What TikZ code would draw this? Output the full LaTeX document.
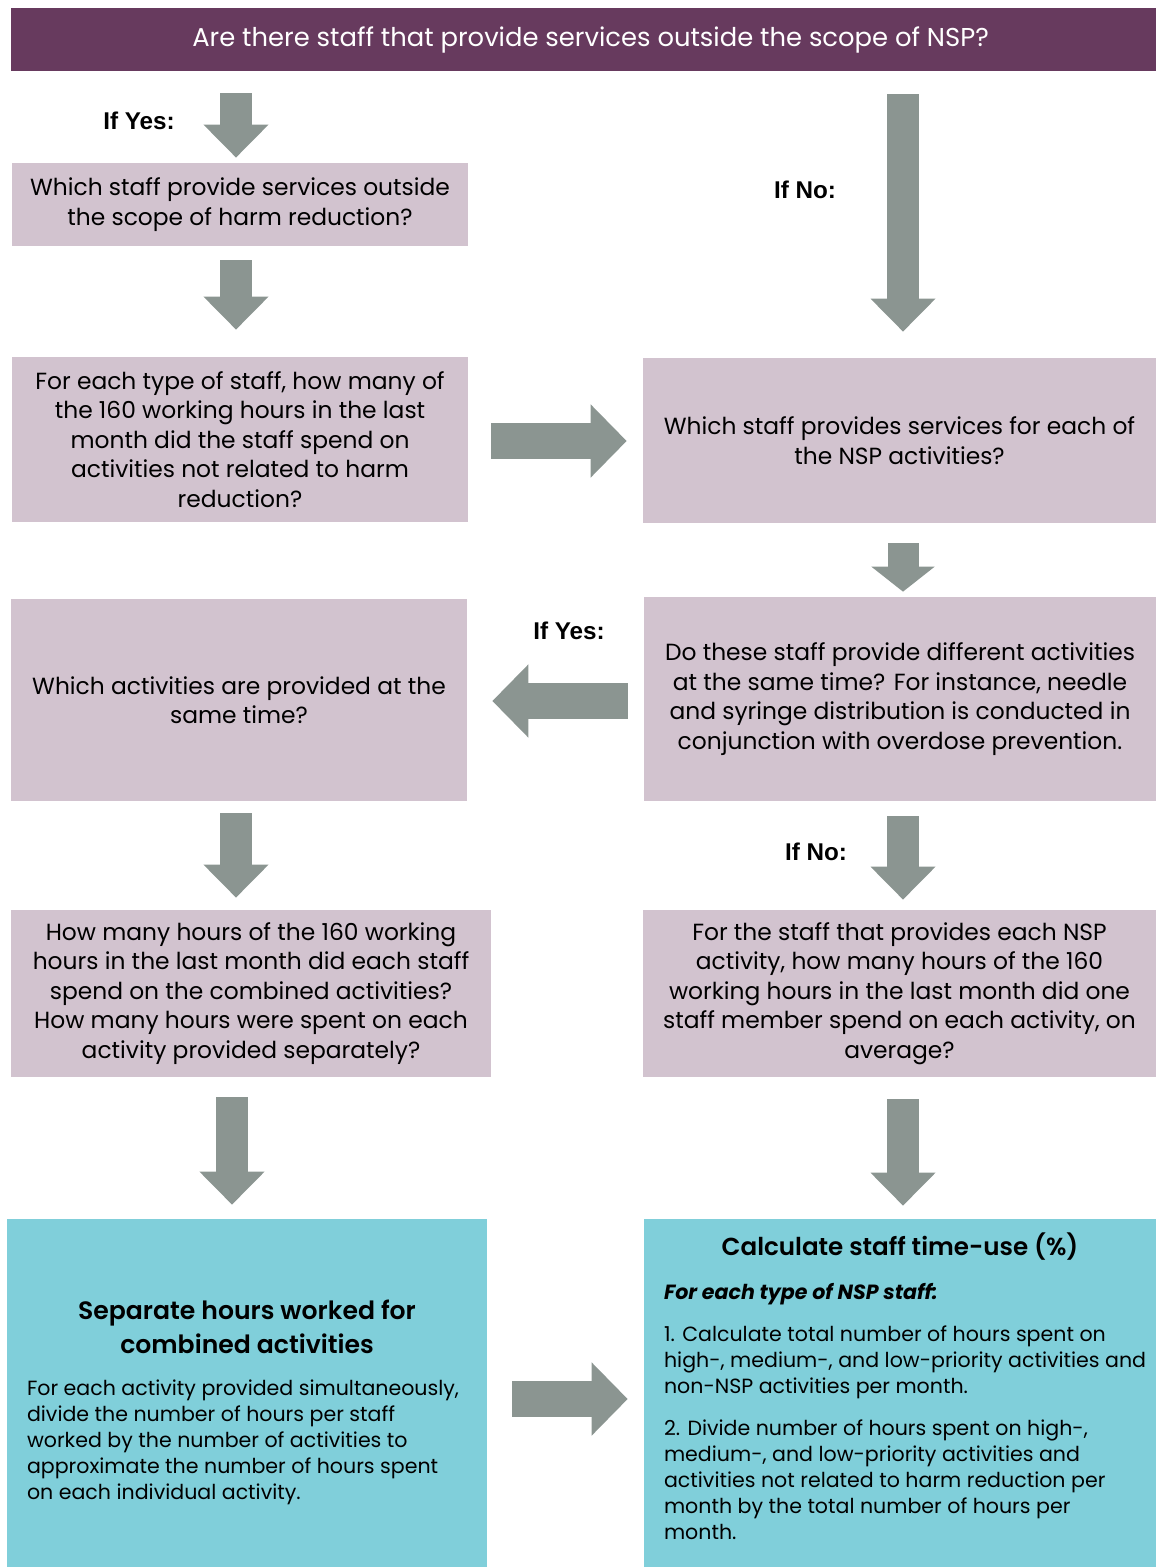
\documentclass[tikz,border=0pt]{standalone}
\usepackage{fontspec}
\setmainfont{Poppins}
\newfontfamily\headfont{Poppins SemiBold}
\newfontfamily\ifnofont{Liberation Sans}
\usetikzlibrary{arrows.meta}
\definecolor{nspPurple}{HTML}{673A5E}
\definecolor{nspPink}{HTML}{D2C3CF}
\definecolor{nspGray}{HTML}{8B9591}
\definecolor{nspTeal}{HTML}{80CFDA}
\begin{document}
\begin{tikzpicture}[x=0.02cm,y=-0.02cm,line join=miter,
  qbox/.style={fill=nspPink,inner sep=0pt,align=center,font=\fontsize{13.3}{16.8}\selectfont},
  resultbox/.style={fill=nspTeal,inner sep=0pt},
  ifnote/.style={font=\ifnofont\fontsize{13.8}{16}\selectfont\bfseries},
  vflow/.style={nspGray,line width=0.64cm,-{Triangle[width=1.26cm,length=0.66cm]}},
  hflow/.style={nspGray,line width=0.72cm,-{Triangle[width=1.42cm,length=0.72cm]}}]
\useasboundingbox (0,0) rectangle (1156,1567);
% question bar
\node[fill=nspPurple,text=white,minimum width=22.9cm,minimum height=1.26cm,inner sep=0pt,
  font=\fontsize{14.7}{16}\selectfont] (question) at (583.5,39.5)
  {\hspace{8pt}Are there staff that provide services outside the scope of NSP?};
% left column
\node[qbox,minimum width=9.12cm,minimum height=1.66cm] (whichStaff) at (240,204.5)
  {Which staff provide services outside\\the scope of harm reduction?};
\node[qbox,minimum width=9.12cm,minimum height=3.3cm] (hoursNonHR) at (240,439.5)
  {For each type of staff, how many of\\the 160 working hours in the last\\month did the staff spend on\\activities not related to harm\\reduction?};
\node[qbox,minimum width=9.12cm,minimum height=4.04cm] (sameTimeAct) at (239,700)
  {Which activities are provided at the\\same time?};
\node[qbox,minimum width=9.6cm,minimum height=3.34cm] (combinedHrs) at (251,993.5)
  {How many hours of the 160 working\\hours in the last month did each staff\\spend on the combined activities?\\How many hours were spent on each\\activity provided separately?};
% right column
\node[qbox,minimum width=10.26cm,minimum height=3.3cm] (nspStaff) at (899.5,440.5)
  {Which staff provides services for each of\\the NSP activities?};
\node[qbox,minimum width=10.24cm,minimum height=4.08cm] (sameTime) at (900,699)
  {Do these staff provide different activities\\at the same time? For instance, needle\\and syringe distribution is conducted in\\conjunction with overdose prevention.};
\node[qbox,minimum width=10.26cm,minimum height=3.34cm] (avgHrs) at (899.5,993.5)
  {For the staff that provides each NSP\\activity, how many hours of the 160\\working hours in the last month did one\\staff member spend on each activity, on\\average?};
% results
\node[resultbox,minimum width=9.6cm,minimum height=6.96cm] (separateHrs) at (247,1393)
  {\parbox[c][6.5cm][c]{8.8cm}{\vspace*{11pt}\centering\headfont\fontsize{14.3}{19.3}\selectfont
   Separate hours worked for\\combined activities\par
   \vspace{9pt}\raggedright\normalfont\fontsize{11.7}{14.8}\selectfont
   For each activity provided simultaneously,\\divide the number of hours per staff\\worked by the number of activities to\\approximate the number of hours spent\\on each individual activity.}};
\node[resultbox,minimum width=10.24cm,minimum height=6.96cm,inner ysep=0.28cm] (timeUse) at (900,1393)
  {\parbox[c][6.4cm][t]{9.44cm}{\centering\headfont\fontsize{14}{18.7}\selectfont
   Calculate staff time-use (\%)\par
   \vspace{10pt}\raggedright\normalfont\fontsize{11.7}{14.8}\selectfont
   {\bfseries\itshape For each type of NSP staff:}\par\vspace{9pt}
   1. Calculate total number of hours spent on\\\mbox{high-, medium-, and low-priority activities and}\\non-NSP activities per month.\par\vspace{9.5pt}
   2. Divide number of hours spent on high-,\\medium-, and low-priority activities and\\activities not related to harm reduction per\\month by the total number of hours per\\month.}};
% answers
\node[ifnote] (yesTop) at (139,121) {If Yes:};
\node[ifnote] (noTop) at (805,190) {If No:};
\node[ifnote] (yesMid) at (569,631) {If Yes:};
\node[ifnote] (noMid) at (816,852) {If No:};
% block arrows
\draw[vflow,shorten <=0.44cm,shorten >=0.1cm] (question.south -| 236,0) -- (whichStaff.north -| 236,0);
\draw[vflow,shorten <=0.28cm,shorten >=0.54cm] (whichStaff.south -| 236,0) -- (hoursNonHR.north -| 236,0);
\draw[vflow,shorten <=0.46cm,shorten >=0.52cm] (question.south -| 903,0) -- (nspStaff.north -| 903,0);
\draw[hflow,shorten <=0.46cm,shorten >=0.32cm] (hoursNonHR.east |- 0,441) -- (nspStaff.west |- 0,441);
\draw[nspGray,line width=0.62cm,-{Triangle[width=1.24cm,length=0.5cm]},shorten <=0.4cm,shorten >=0.1cm]
  (nspStaff.south -| 903,0) -- (sameTime.north -| 903,0);
\draw[hflow,shorten <=0.32cm,shorten >=0.5cm] (sameTime.west |- 0,701) -- (sameTimeAct.east |- 0,701);
\draw[vflow,shorten <=0.24cm,shorten >=0.24cm] (sameTimeAct.south -| 236,0) -- (combinedHrs.north -| 236,0);
\draw[vflow,shorten <=0.3cm,shorten >=0.2cm] (sameTime.south -| 903,0) -- (avgHrs.north -| 903,0);
\draw[vflow,shorten <=0.4cm,shorten >=0.28cm] (combinedHrs.south -| 232,0) -- (separateHrs.north -| 232,0);
\draw[vflow,shorten <=0.44cm,shorten >=0.26cm] (avgHrs.south -| 903,0) -- (timeUse.north -| 903,0);
\draw[hflow,shorten <=0.5cm,shorten >=0.32cm] (separateHrs.east |- 0,1399) -- (timeUse.west |- 0,1399);
\end{tikzpicture}
\end{document}
